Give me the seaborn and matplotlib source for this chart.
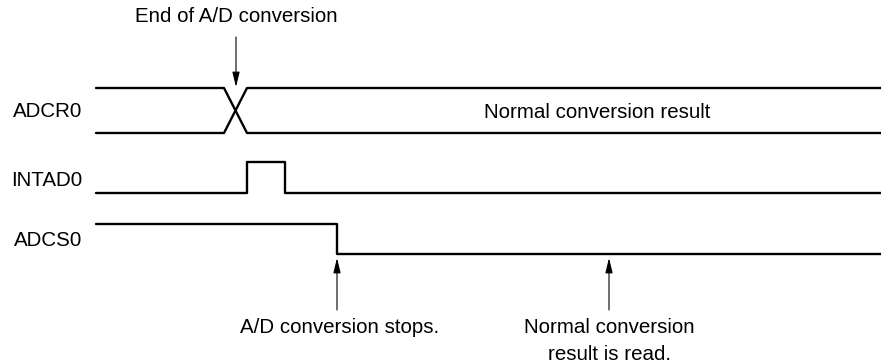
import seaborn as sns
import matplotlib.pyplot as plt
import pandas as pd

# waveform corners (pixel coords of the diagram, y grows downward)
adcr0_a_x = [96, 224, 247, 881]
adcr0_a_y = [88, 88, 133, 133]
adcr0_b_x = [96, 224, 247, 881]
adcr0_b_y = [133, 133, 88, 88]
intad0_x = [96, 247, 247, 285, 285, 881]
intad0_y = [193, 193, 162, 162, 193, 193]
adcs0_x = [96, 337, 337, 881]
adcs0_y = [224, 224, 254, 254]

signal_names = ["ADCR0", "INTAD0", "ADCS0"]
signal_label_y = [117, 186, 246]
bus_text = "Normal conversion result"
top_note = "End of A/D conversion"
bottom_notes = ["A/D conversion stops.", "Normal conversion\nresult is read."]
bottom_note_x = [337, 609]

sns.set_style("white")
plt.rcParams["font.family"] = ["Liberation Sans", "DejaVu Sans"]
plt.rcParams["text.color"] = "black"
FS = 14.8

fig = plt.figure(figsize=(8.81, 3.64), dpi=100)
ax = fig.add_axes([0, 0, 1, 1])

waves = [(adcr0_a_x, adcr0_a_y), (adcr0_b_x, adcr0_b_y),
         (intad0_x, intad0_y), (adcs0_x, adcs0_y)]
for xs, ys in waves:
    df = pd.DataFrame({"x": xs, "y": ys})
    sns.lineplot(data=df, x="x", y="y", sort=False, estimator=None,
                 color="black", linewidth=1.7, ax=ax)

for name, yy in zip(signal_names, signal_label_y):
    ax.text(82, yy, name, fontsize=FS, va="baseline", ha="right")

ax.text(597, 118, bus_text, fontsize=FS, va="baseline", ha="center")

ax.text(236, 22, top_note, fontsize=FS, va="baseline", ha="center")
arrow = dict(arrowstyle="-|>,head_length=0.9,head_width=0.22",
             color="black", lw=0.8, shrinkA=0, shrinkB=0)
ax.annotate("", xy=(236, 87), xytext=(236, 37), arrowprops=arrow)

for xx, note in zip(bottom_note_x, bottom_notes):
    ax.annotate("", xy=(xx, 258), xytext=(xx, 310), arrowprops=arrow)
    lines = note.split("\n")
    shift = 3 if len(lines) == 1 else 0
    for i, line in enumerate(lines):
        ax.text(xx + shift, 333 + 27 * i, line, fontsize=FS,
                va="baseline", ha="center")

ax.set_xlim(0, 881)
ax.set_ylim(364, 0)
ax.axis("off")

fig.savefig("out.png", dpi=100)
